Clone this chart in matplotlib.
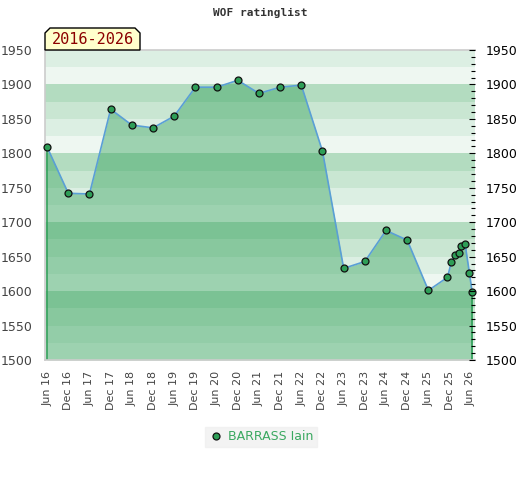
import matplotlib.pyplot as plt
import numpy as np
from matplotlib.patches import Polygon
from matplotlib.ticker import MultipleLocator

# months after Jun 2016 and rating at that time
months = [0, 6, 12, 18, 24, 30, 36, 42, 48, 54, 60, 66, 72, 78, 84, 90, 96, 102, 108,
          113.4, 114.5, 115.5, 116.6, 117.3, 118.4, 119.6, 120.4]
ratings = [1809, 1742, 1741, 1864, 1841, 1837, 1854, 1896, 1896, 1906, 1887, 1896, 1899, 1803,
           1633, 1643, 1688, 1674, 1601,
           1620, 1642, 1652, 1656, 1665, 1668, 1627, 1598]

tick_labels = ["Jun 16", "Dec 16", "Jun 17", "Dec 17", "Jun 18", "Dec 18", "Jun 19",
               "Dec 19", "Jun 20", "Dec 20", "Jun 21", "Dec 21", "Jun 22", "Dec 22",
               "Jun 23", "Dec 23", "Jun 24", "Dec 24", "Jun 25", "Dec 25", "Jun 26"]
tick_months = [6 * i for i in range(len(tick_labels))]

player = "BARRASS Iain"
period = "2016-2026"
title = "WOF ratinglist"

# band shades, from top of each 100-block downwards
band_colors = ["#b3dcc0", "#c9e6d2", "#dcefe3", "#eef7f1"]

fig = plt.figure(figsize=(5.2, 4.8), dpi=100)
ax = fig.add_axes([45 / 520, 1 - 360 / 480, 430 / 520, 310 / 480])

ymin, ymax = 1500, 1950
for lo in range(ymin, ymax, 25):
    idx = 3 - (lo % 100) // 25
    ax.axhspan(lo, lo + 25, color=band_colors[idx], lw=0, zorder=0)

fill_c = (46 / 255, 160 / 255, 87 / 255)
ax.fill_between(months, ratings, ymin, color=fill_c, alpha=0.42, lw=0, zorder=1)
ax.vlines([months[0], months[-1]], ymin, [ratings[0], ratings[-1]],
          color="#2e9e57", lw=1.2, zorder=2)
ax.plot(months, ratings, color="#5a9fd6", lw=1.2, zorder=3)
ax.plot(months, ratings, ls="none", marker="o", ms=5, mfc="#2e9e57", mec="#111111",
        mew=0.9, zorder=4, clip_on=False)

ax.set_xlim(-0.6, 121.2)
ax.set_ylim(ymin, ymax)
ax.set_xticks(tick_months)
ax.set_xticklabels(tick_labels, rotation=90, fontsize=8, color="#444444")
ax.tick_params(axis="x", length=0, pad=8)
ax.set_yticks(range(ymin, ymax + 1, 50))
ax.tick_params(axis="y", length=0, labelsize=9, labelcolor="#444444", pad=9)

for s in ["left", "bottom", "top"]:
    ax.spines[s].set_color("#cccccc")
    ax.spines[s].set_linewidth(1.2)
ax.spines["right"].set_visible(False)

ax2 = ax.twinx()
ax2.set_ylim(ymin, ymax)
ax2.set_yticks(range(ymin, ymax + 1, 50))
ax2.yaxis.set_minor_locator(MultipleLocator(10))
ax2.tick_params(axis="y", which="major", direction="in", length=4, width=0.8,
                labelsize=9, labelcolor="black", pad=8)
ax2.tick_params(axis="y", which="minor", direction="in", length=3, width=0.8)
for s in ax2.spines.values():
    s.set_visible(False)

fig.text(260 / 520, 1 - 13 / 480, title, ha="center", va="center",
         family="DejaVu Sans Mono", fontweight="bold", fontsize=8, color="#333333")

# period label box with cut top corners
x0, x1, y0, y1, c = 45, 140, 28, 50, 5
pts = [(x0, y1), (x0, y0 + c), (x0 + c, y0), (x1 - c, y0), (x1, y0 + c), (x1, y1)]
pts = [(px / 520, 1 - py / 480) for px, py in pts]
fig.patches.append(Polygon(pts, closed=True, transform=fig.transFigure,
                           facecolor="#ffffcc", edgecolor="black", lw=1, zorder=5))
fig.text((x0 + x1) / 2 / 520, 1 - 40 / 480, period, ha="center", va="center",
         family="DejaVu Sans Mono", fontsize=11, color="#8b0000", zorder=6)

h, = ax.plot([], [], ls="none", marker="o", ms=5, mfc="#2e9e57", mec="#111111", mew=0.9)
leg = fig.legend([h], [player], loc="center", bbox_to_anchor=(261 / 520, 1 - 437 / 480),
                 frameon=True, fontsize=9, handletextpad=0.4, borderpad=0.3,
                 handlelength=1.2, fancybox=False)
leg.get_frame().set_facecolor("#f0f0f0")
leg.get_frame().set_edgecolor("#f0f0f0")
for t in leg.get_texts():
    t.set_color("#3aa860")

fig.savefig("out.png", dpi=100)
